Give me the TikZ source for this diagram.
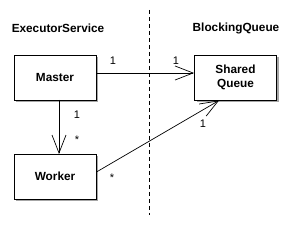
\documentclass[tikz,border=0pt]{standalone}
\usepackage{fontspec}
\setmainfont{Liberation Sans}
\usetikzlibrary{arrows.meta}
\begin{document}
\begin{tikzpicture}[x=1pt,y=-1pt,
  cls/.style={draw=black,line width=0.9pt,fill=white,minimum width=82pt,minimum height=45pt,inner sep=0pt,align=center,font=\fontsize{11.8}{13.5}\selectfont\bfseries},
  shadowbox/.style={fill=black!35,draw=none,minimum width=82pt,minimum height=45pt,inner sep=0pt},
  title/.style={font=\fontsize{11.8}{13.5}\selectfont\bfseries},
  mult/.style={font=\fontsize{11}{12}\selectfont},
  assoc/.style={line width=0.7pt,-{Straight Barb[length=18pt,width=14pt,line width=0.7pt]}}]
\useasboundingbox (0,0) rectangle (290,227);
\fill[white] (0,0) rectangle (290,227);
\draw[dashed,line width=0.8pt,dash pattern=on 4pt off 3pt] (149,10) coordinate (dtop) -- (149,215) coordinate (dbot);
\node[title] (t1) at (58,28) {ExecutorService};
\node[title] (t2) at (236,28) {BlockingQueue};
\node[shadowbox] at (57,79.5) {};
\node[shadowbox] at (237.5,79.5) {};
\node[shadowbox] at (57,178.5) {};
\node[cls] (master) at (55,77.5) {Master};
\node[cls] (queue) at (235.5,77.5) {Shared\\Queue};
\node[cls] (worker) at (55,176.5) {Worker};
\draw[assoc] (master.east |- 0,73) -- (queue.west |- 0,73);
\draw[assoc] (59,100) -- (59,154);
\draw[assoc] (worker.east |- 0,172) -- (219,100.5);
\node[mult] (m1) at (113,61) {1};
\node[mult] (m2) at (176,61) {1};
\node[mult] (m3) at (77,115) {1};
\node[mult] (m4) at (77,140) {*};
\node[mult] (m5) at (112,178) {*};
\node[mult] (m6) at (203,124) {1};
\end{tikzpicture}
\end{document}
